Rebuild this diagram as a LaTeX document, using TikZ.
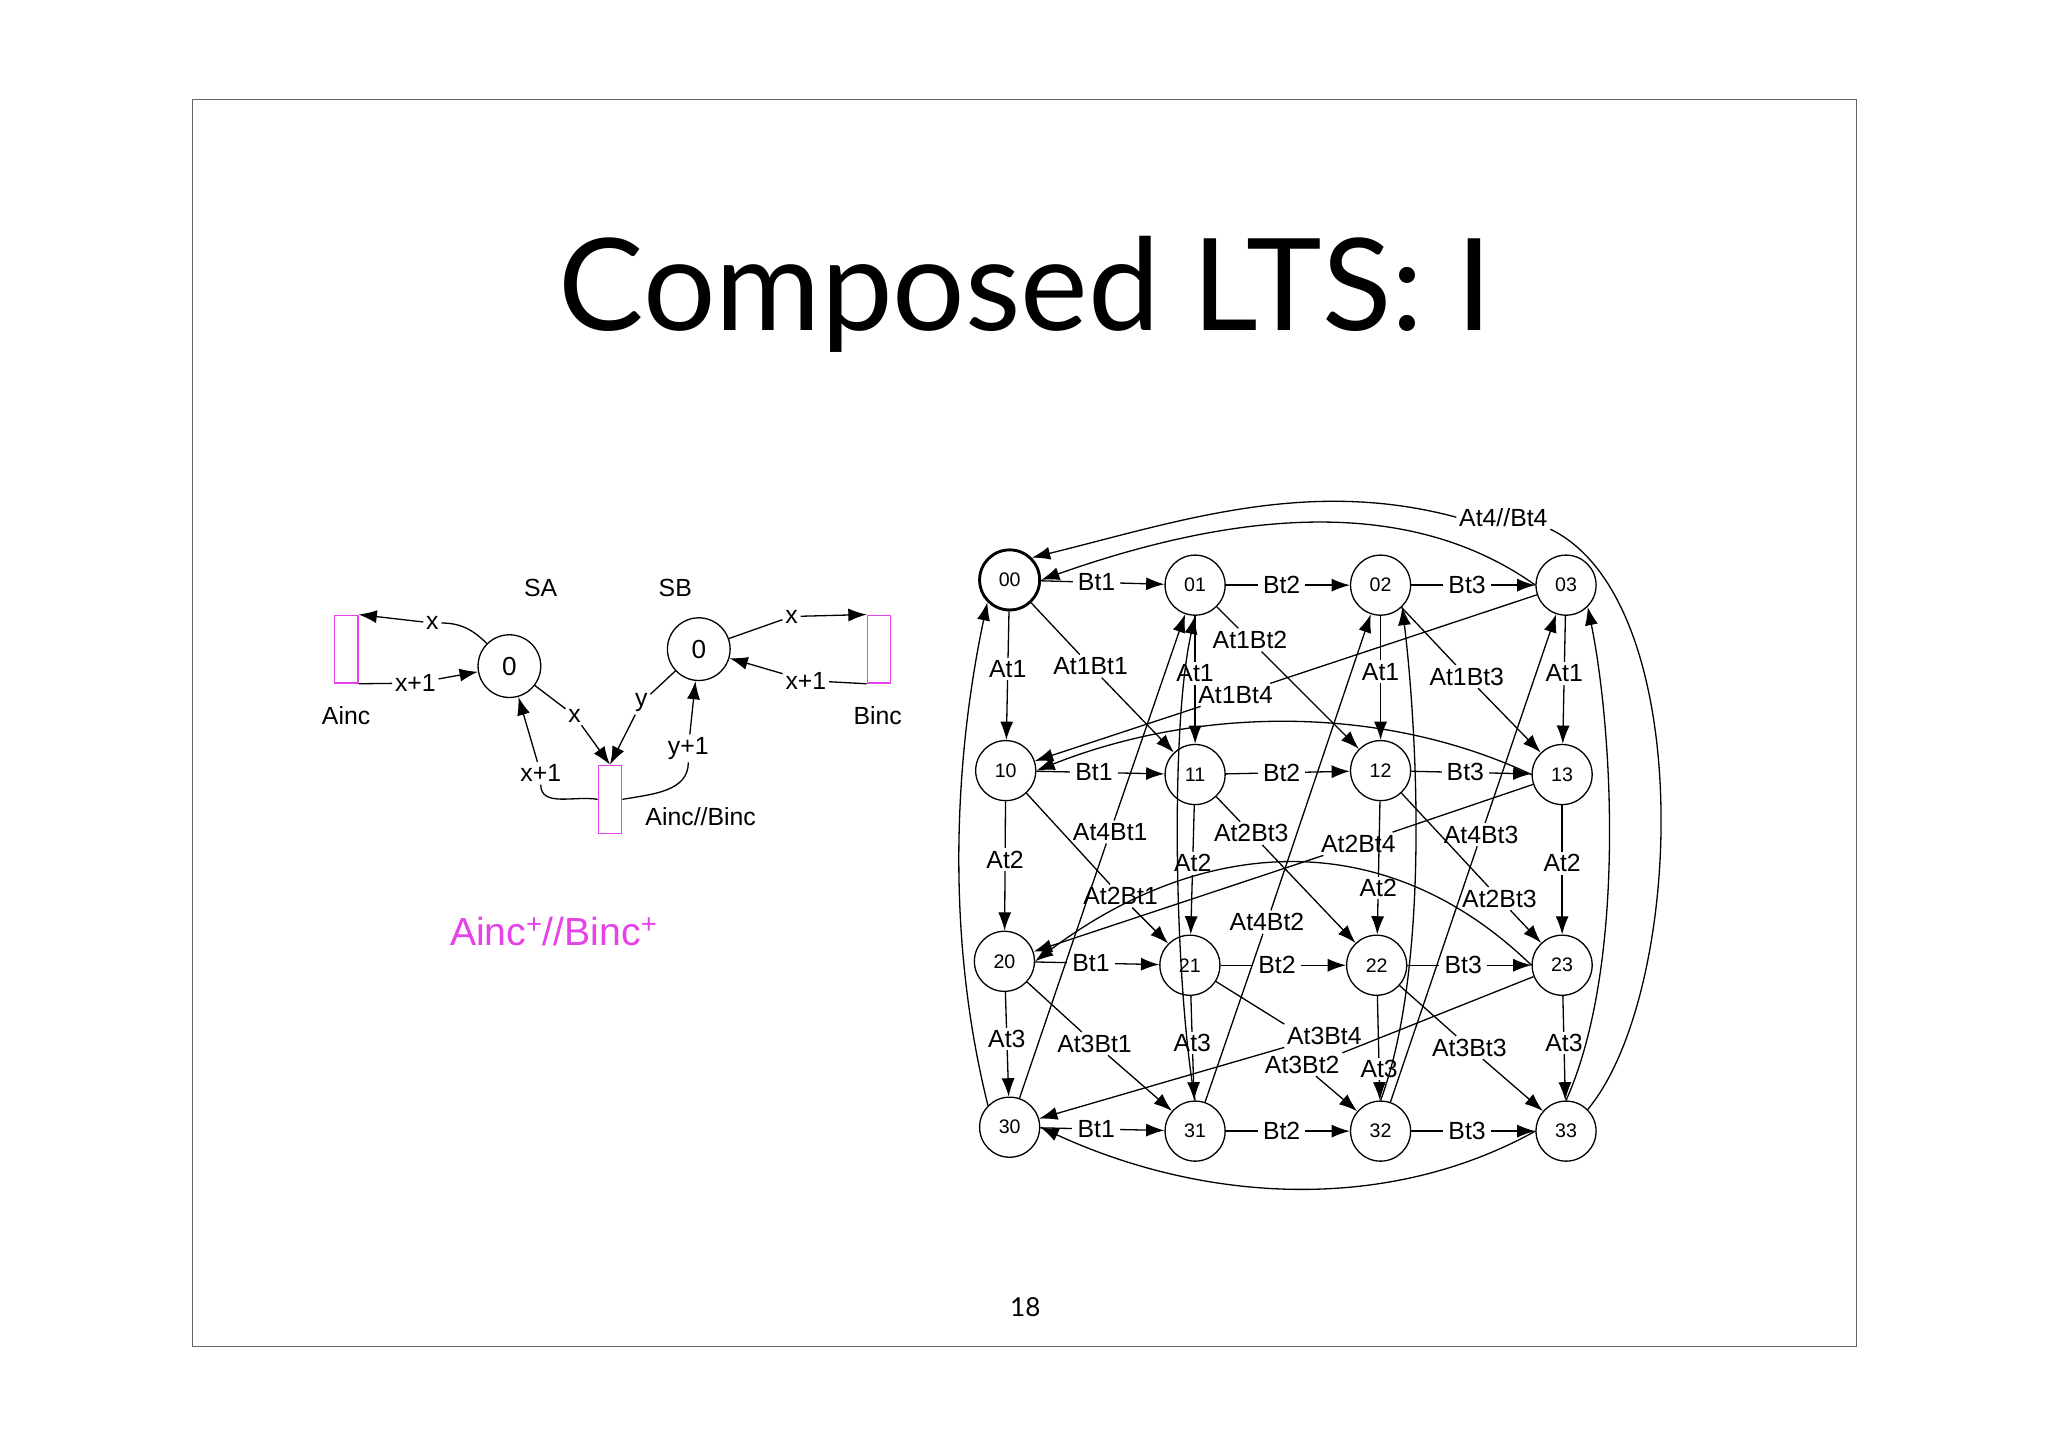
\documentclass[tikz,border=0pt]{standalone}
\usepackage{fontspec}
\setmainfont{Liberation Sans}
\newfontfamily\titlefont{Lato}
\usetikzlibrary{arrows.meta}
\definecolor{pinkv}{HTML}{E542E8}
\begin{document}
\begin{tikzpicture}[x=1pt,y=-1pt,
  st/.style={circle,draw,line width=1pt,minimum size=46pt,inner sep=0pt,font=\fontsize{15}{15}\selectfont},
  lbl/.style={font=\fontsize{19}{19}\selectfont,fill=white,inner xsep=4pt,inner ysep=2pt},
  lab/.style={font=\fontsize{19}{19}\selectfont,inner sep=2pt},
  arr/.style={line width=1pt,-{Latex[length=14pt,width=10pt]}},
  ln/.style={line width=1pt},
  box/.style={draw=pinkv,line width=1pt,minimum width=18pt,minimum height=52pt,inner sep=0pt}]
\useasboundingbox (0,0) rectangle (1568,1108);
\fill[white] (0,0) rectangle (1568,1108);
\draw[line width=0.6pt,black!60] (147,76) rectangle (1421,1031);
\node[font=\titlefont\fontsize{98}{98}\selectfont] (title) at (785,225) {Composed LTS: I};
\node[font=\titlefont\fontsize{20}{20}\selectfont] (pg) at (785,1001) {18};
% left diagram
\node[st,minimum size=48pt,font=\fontsize{20}{20}\selectfont] (sa) at (390,510) {0};
\node[st,minimum size=48pt,font=\fontsize{20}{20}\selectfont] (sb) at (535,497) {0};
\node[lab] (lsa) at (414,450) {SA};
\node[lab] (lsb) at (517,450) {SB};
\node[box] (ainc) at (265,497) {};
\node[box] (binc) at (673,497) {};
\node[box] (ab) at (467,612) {};
\node[lab] (lainc) at (265,548) {Ainc};
\node[lab] (lbinc) at (672,548) {Binc};
\node[lab,anchor=west] (lab2) at (492,625) {Ainc//Binc};
\node[lab] (e1) at (331,477) {x};
\node[lab] (e2) at (318,523) {x+1};
\node[lab] (e3) at (440,548) {x};
\node[lab] (e4) at (414,592) {x+1};
\node[lab] (e5) at (491,538) {y};
\node[lab] (e6) at (527,573) {y+1};
\node[lab] (e7) at (606,472) {x};
\node[lab] (e8) at (617,521) {x+1};
\draw[ln] (sa) to[out=135,in=0] (e1); \draw[arr] (e1) -- (ainc.north east);
\draw[ln] (ainc.south east) -- (e2); \draw[arr] (e2) -- (sa);
\draw[ln] (sa) -- (e3); \draw[arr] (e3) -- (ab.north);
\draw[ln] (ab.west) to[out=170,in=-90] (e4); \draw[arr] (e4) -- (sa);
\draw[ln] (sb) -- (e5); \draw[arr] (e5) -- (ab.north);
\draw[ln] (ab.east) to[out=10,in=-90] (e6); \draw[arr] (e6) -- (sb);
\draw[ln] (sb) -- (e7); \draw[arr] (e7) -- (binc.north west);
\draw[ln] (binc.south west) -- (e8); \draw[arr] (e8) -- (sb);
\node[font=\fontsize{30}{30}\selectfont,text=pinkv] (pink) at (424,713) {Ainc\textsuperscript{+}//Binc\textsuperscript{+}};
% LTS nodes
\node[st,line width=2.2pt] (n00) at (773,444) {00};
\node[st] (n01) at (915,448) {01};
\node[st] (n02) at (1057,448) {02};
\node[st] (n03) at (1199,448) {03};
\node[st] (n10) at (770,590) {10};
\node[st] (n11) at (915,593) {11};
\node[st] (n12) at (1057,590) {12};
\node[st] (n13) at (1196,593) {13};
\node[st] (n20) at (769,736) {20};
\node[st] (n21) at (911,739) {21};
\node[st] (n22) at (1054,739) {22};
\node[st] (n23) at (1196,739) {23};
\node[st] (n30) at (773,863) {30};
\node[st] (n31) at (915,866) {31};
\node[st] (n32) at (1057,866) {32};
\node[st] (n33) at (1199,866) {33};
% horizontals
\foreach \r in {0,1,2,3}{
  \draw[arr] (n\r0) -- node[lbl,pos=0.45]{Bt1} (n\r1);
  \draw[arr] (n\r1) -- node[lbl,pos=0.45]{Bt2} (n\r2);
  \draw[arr] (n\r2) -- node[lbl,pos=0.45]{Bt3} (n\r3);
}
% verticals
\foreach \c/\pa/\pb/\pc in {0/0.45/0.45/0.45,1/0.45/0.45/0.45,2/0.45/0.65/0.7,3/0.45/0.45/0.45}{
  \draw[arr] (n0\c) -- node[lbl,pos=\pa]{At1} (n1\c);
  \draw[arr] (n1\c) -- node[lbl,pos=\pb]{At2} (n2\c);
  \draw[arr] (n2\c) -- node[lbl,pos=\pc]{At3} (n3\c);
}
% diagonal labels
\node[lab] (d1) at (835,510) {At1Bt1};
\node[lab] (d2) at (957,490) {At1Bt2};
\node[lab] (d3) at (1123,518) {At1Bt3};
\node[lab] (d4) at (946,532) {At1Bt4};
\node[lab] (d5) at (858,686) {At2Bt1};
\node[lab] (d6) at (958,638) {At2Bt3};
\node[lab] (d7) at (1040,646) {At2Bt4};
\node[lab] (d8) at (1148,688) {At2Bt3};
\node[lab] (d9) at (850,637) {At4Bt1};
\node[lab] (d10) at (970,706) {At4Bt2};
\node[lab] (d11) at (1134,639) {At4Bt3};
\node[lab] (d12) at (838,799) {At3Bt1};
\node[lab] (d13) at (1014,793) {At3Bt4};
\node[lab] (d14) at (997,815) {At3Bt2};
\node[lab] (d15) at (1125,802) {At3Bt3};
\node[lab] (d16) at (1151,396) {At4//Bt4};
\draw[ln] (n00) -- (d1); \draw[arr] (d1) -- (n11);
\draw[ln] (n01) -- (d2); \draw[arr] (d2) -- (n12);
\draw[ln] (n02) -- (d3); \draw[arr] (d3) -- (n13);
\draw[ln] (n03) -- (d4); \draw[arr] (d4) -- (n10);
\draw[ln] (n10) -- (d5); \draw[arr] (d5) -- (n21);
\draw[ln] (n11) -- (d6); \draw[arr] (d6) -- (n22);
\draw[ln] (n13) -- (d7); \draw[arr] (d7) -- (n20);
\draw[ln] (n12) -- (d8); \draw[arr] (d8) -- (n23);
\draw[ln] (n30) -- (d9); \draw[arr] (d9) -- (n01);
\draw[ln] (n31) -- (d10); \draw[arr] (d10) -- (n02);
\draw[ln] (n32) -- (d11); \draw[arr] (d11) -- (n03);
\draw[ln] (n20) -- (d12); \draw[arr] (d12) -- (n31);
\draw[ln] (n21) -- (d13.north west); \draw[arr] (d13) -- (n30);
\draw[ln] (n23) -- (d14.north east); \draw[arr] (d14) -- (n32);
\draw[ln] (n22) -- (d15); \draw[arr] (d15) -- (n33);
% At4 returns
\draw[arr] (n30.north west) .. controls (720,700) and (735,560) .. (n00.south west);
\draw[arr] (n31.north) .. controls (900,760) and (895,560) .. (n01.south);
\draw[arr] (n32.north) .. controls (1095,740) and (1085,560) .. (n02.south east);
\draw[arr] (n33.north) .. controls (1245,740) and (1235,560) .. (n03.south east);
% Bt4 returns
\draw[arr] (n03.west) .. controls (1080,380) and (950,390) .. (n00.east);
\draw[arr] (n13.west) .. controls (1060,540) and (920,540) .. (n10.east);
\draw[arr] (n23.west) .. controls (1060,630) and (920,640) .. (n20.east);
\draw[arr] (n33.west) .. controls (1060,930) and (920,920) .. (n30.east);
% At4//Bt4
\draw[ln] (n33.north east) .. controls (1290,760) and (1300,460) .. (d16.south east);
\draw[arr] (d16.west) .. controls (1000,365) and (900,400) .. (n00.north east);
\end{tikzpicture}
\end{document}
